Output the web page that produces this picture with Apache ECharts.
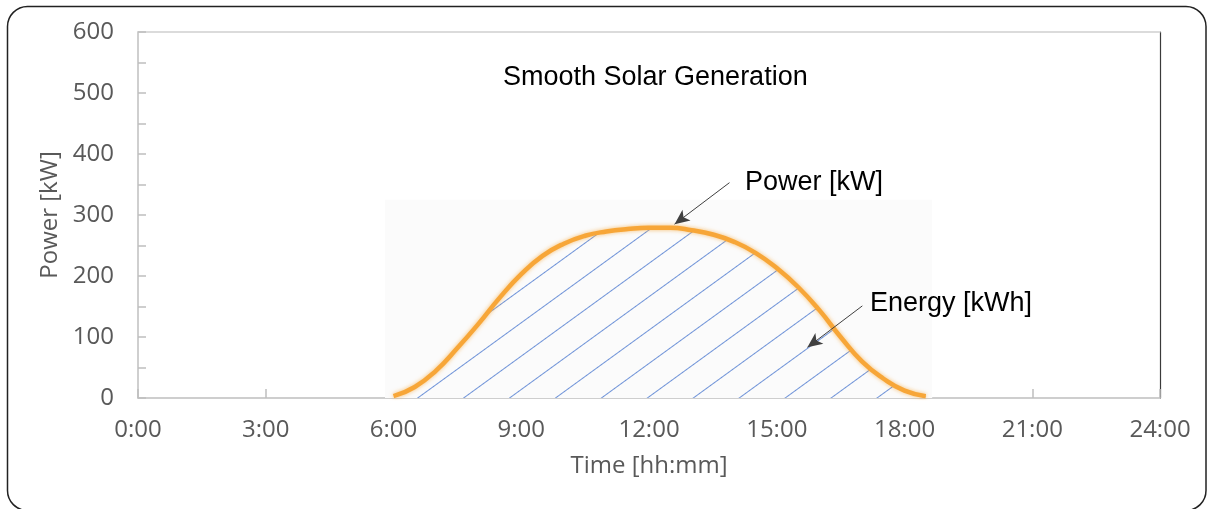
<!DOCTYPE html>
<html><head><meta charset="utf-8">
<script src="https://cdn.jsdelivr.net/npm/echarts@6/dist/echarts.min.js"></script>
<style>html,body{margin:0;padding:0;background:#fff}#c{width:1207px;height:509px}</style>
</head><body><div id="c"></div>
<script>
// ---- data ----
const hours   = [6.0, 6.5, 7.0, 7.5, 8.0, 8.5, 9.0, 9.5, 10.0, 10.5, 11.0, 11.5, 12.0, 12.5, 13.0, 13.5, 14.0, 14.5, 15.0, 15.5, 16.0, 16.5, 17.0, 17.5, 18.0, 18.5];
const powerKW = [3, 18, 45, 82, 122, 165, 203, 233, 253, 266, 273, 277, 279, 279, 275, 268, 256, 238, 213, 182, 144, 100, 60, 32, 12, 3];
const xTickLabels = ['0:00', '3:00', '6:00', '9:00', '12:00', '15:00', '18:00', '21:00', '24:00'];
const yTickValues = [0, 100, 200, 300, 400, 500, 600];
const chartTitle = 'Smooth Solar Generation';
const xAxisName = 'Time [hh:mm]';
const yAxisName = 'Power [kW]';
const annotationTexts = ['Power [kW]', 'Energy [kWh]'];
// annotation arrows in data space [hour, kW]
const powerArrowFrom = [13.89, 353];
const powerArrowTo = [12.6, 285];
const energyArrowFrom = [17.01, 151];
const energyArrowTo = [15.72, 83];
// pasted-image background box in data space
const shadeFrom = [5.8, 0];
const shadeTo = [18.65, 325];

const chart = echarts.init(document.getElementById('c'), null, {renderer: 'canvas'});
const axisGrey = '#bfbfbf';
const labelGrey = '#595959';
const xMax = 24, xStep = 3;
const hatch = {symbol: 'rect', symbolSize: 1, dashArrayX: [1, 0], dashArrayY: [1, 25.4],
               rotation: -Math.PI * 0.2, color: '#6f93d8'};
const annoFont = {fontFamily: 'Liberation Sans', fontSize: 27, fontWeight: 'normal', color: '#000'};

const option = {
  backgroundColor: '#ffffff',
  animation: false,
  title: [
    {text: chartTitle, left: 503, top: 64, padding: 0, textStyle: annoFont},
    {text: annotationTexts[0], left: 745, top: 169, padding: 0, textStyle: annoFont},
    {text: annotationTexts[1], left: 870, top: 290, padding: 0, textStyle: annoFont}
  ],
  grid: {left: 138, right: 47, top: 32, bottom: 111},
  xAxis: [
    {type: 'value', min: 0, max: xMax, interval: xStep,
     name: xAxisName, nameLocation: 'middle', nameGap: 56,
     nameTextStyle: {fontFamily: 'Open Sans', fontSize: 24, color: labelGrey},
     axisLine: {show: true, onZero: false, lineStyle: {color: axisGrey, width: 1.5}},
     axisTick: {show: true, inside: true, length: 9, lineStyle: {color: axisGrey, width: 1.5}},
     axisLabel: {margin: 20, fontFamily: 'Open Sans', fontSize: 24, color: labelGrey,
       formatter: v => xTickLabels[Math.round(v / xStep)]},
     splitLine: {show: false}},
    {type: 'value', position: 'top', min: 0, max: xMax,
     axisLine: {show: true, onZero: false, lineStyle: {color: '#d0d0d0', width: 1.5}},
     axisTick: {show: false}, axisLabel: {show: false}, splitLine: {show: false}}
  ],
  yAxis: [
    {type: 'value', min: yTickValues[0], max: yTickValues[yTickValues.length - 1], interval: 100,
     name: yAxisName, nameLocation: 'middle', nameGap: 76,
     nameTextStyle: {fontFamily: 'Open Sans', fontSize: 24, color: labelGrey},
     axisLine: {show: true, onZero: false, lineStyle: {color: axisGrey, width: 1.5}},
     axisTick: {show: true, inside: true, length: 8, lineStyle: {color: axisGrey, width: 1.5}},
     minorTick: {show: true, splitNumber: 2, length: 8, lineStyle: {color: axisGrey, width: 1.5}},
     axisLabel: {margin: 24, fontFamily: 'Open Sans', fontSize: 24, color: labelGrey},
     splitLine: {show: false}},
    {type: 'value', position: 'right', min: 0, max: 600,
     axisLine: {show: true, onZero: false, lineStyle: {color: '#3a3a3a', width: 1.2}},
     axisTick: {show: false}, axisLabel: {show: false}, splitLine: {show: false}}
  ],
  graphic: [
    {type: 'rect', silent: true, z: -10,
     shape: {x: 7.5, y: 6.5, width: 1198.5, height: 504, r: 20},
     style: {fill: 'none', stroke: '#222', lineWidth: 1.5}}
  ],
  series: [
    {type: 'line', name: 'shade', data: [], z: 1,
     markArea: {silent: true, itemStyle: {color: '#fbfbfb'},
       data: [[{coord: shadeFrom}, {coord: shadeTo}]]}},
    {type: 'line', name: 'Power', z: 3,
     data: hours.map((h, i) => [h, powerKW[i]]),
     smooth: true, showSymbol: false, symbol: 'none',
     lineStyle: {color: '#f7a638', width: 4.5, shadowBlur: 4, shadowColor: 'rgba(247,166,56,0.7)', decal: hatch},
     itemStyle: {color: '#f7a638', decal: hatch},
     areaStyle: {color: 'rgba(255,255,255,0)', opacity: 1},
     markLine: {silent: true, symbol: ['none', 'arrow'], symbolSize: [10, 15],
       lineStyle: {color: '#404040', width: 1, type: 'solid'},
       label: {show: false},
       data: [[{coord: powerArrowFrom}, {coord: powerArrowTo}],
              [{coord: energyArrowFrom}, {coord: energyArrowTo}]]}}
  ]
};
chart.setOption(option);
</script>
</body></html>
